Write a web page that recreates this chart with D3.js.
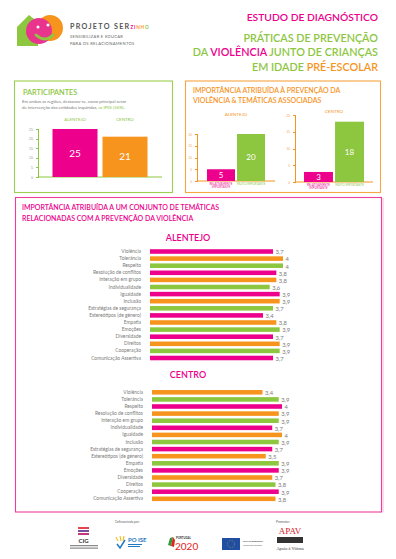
<!DOCTYPE html>
<html>
<head>
<meta charset="utf-8">
<title>Projeto SERzinho</title>
<script src="https://cdn.jsdelivr.net/npm/d3@7"></script>
<style>
  body { margin: 0; background: #fff; }
  svg { display: block; font-family: Lato, "Open Sans", sans-serif; }
  .axis path, .axis line { shape-rendering: crispEdges; }
</style>
</head>
<body>
<svg id="main" width="396" height="559"></svg>
<script>
// ---- data ----
const partCats = ['ALENTEJO', 'CENTRO'];
const partValues = [25, 21];
const partTicks = [0, 5, 10, 15, 20, 25];

const impCats = ['RELATIVAMENTE IMPORTANTE', 'MUITO IMPORTANTE'];
const impAlentejo = [5, 20];
const impCentro = [3, 18];
const impTicks = [0, 5, 10, 15, 20];

const topics = ['Violência', 'Tolerância', 'Respeito', 'Resolução de conflitos',
  'Interação em grupo', 'Individualidade', 'Igualdade', 'Inclusão',
  'Estratégias de segurança', 'Estereótipos (de género)', 'Empatia', 'Emoções',
  'Diversidade', 'Direitos', 'Cooperação', 'Comunicação Assertiva'];
const alentejoScores = [3.7, 4, 4, 3.8, 3.8, 3.6, 3.9, 3.9, 3.7, 3.4, 3.8, 3.9, 3.7, 3.9, 3.9, 3.7];
const centroScores = [3.4, 3.9, 4, 3.9, 3.9, 3.7, 4, 3.9, 3.7, 3.5, 3.9, 3.9, 3.7, 3.8, 3.9, 3.8];

const PINK = '#ec008c', ORANGE = '#f7941d', GREEN = '#8dc63f', GREY = '#7a7a7a';

const svg = d3.select('svg#main');
const fmt = v => String(v).replace('.', ',');

// ---- header / logo ----
const logo = svg.append('g').attr('class', 'logo');
logo.append('path')
  .attr('d', 'M17,27 L29,15 L38,22 L38,46 L17,46 Z')
  .attr('fill', GREEN);
logo.append('circle').attr('cx', 50).attr('cy', 28).attr('r', 13).attr('fill', ORANGE);
logo.append('circle').attr('cx', 39).attr('cy', 31).attr('r', 13).attr('fill', '#e8348c');
logo.append('path').attr('d', 'M36,35 Q45,43 53,35').attr('fill', 'none')
  .attr('stroke', GREEN).attr('stroke-width', 3).attr('stroke-linecap', 'round');
logo.append('circle').attr('cx', 38).attr('cy', 27).attr('r', 1.5).attr('fill', '#fff');
logo.append('circle').attr('cx', 48).attr('cy', 25).attr('r', 1.5).attr('fill', '#fff');

const brand = svg.append('text').attr('x', 70).attr('y', 29)
  .attr('font-size', 7.2).attr('font-weight', 700).attr('fill', '#555')
  .attr('letter-spacing', 1.3);
brand.append('tspan').text('PROJETO SER');
['Z', 'I', 'N', 'H', 'O'].forEach((c, i) => {
  brand.append('tspan').text(c).attr('font-size', 4.6).attr('letter-spacing', 0.8)
    .attr('fill', [PINK, PINK, ORANGE, ORANGE, GREEN][i]);
});
svg.append('text').attr('x', 70).attr('y', 37.5).attr('font-size', 4.1)
  .attr('fill', '#666').attr('letter-spacing', 0.3).text('SENSIBILIZAR E EDUCAR');
svg.append('text').attr('x', 70).attr('y', 44.5).attr('font-size', 4.1)
  .attr('fill', '#666').attr('letter-spacing', 0.3).text('PARA OS RELACIONAMENTOS');

const titleG = svg.append('g').attr('text-anchor', 'end').attr('font-weight', 600);
titleG.append('text').attr('x', 378).attr('y', 20.5).attr('font-size', 10.3)
  .attr('fill', PINK).text('ESTUDO DE DIAGNÓSTICO');
const titleLines = [
  [['PRÁTICAS DE PREVENÇÃO', GREEN]],
  [['DA ', GREEN], ['VIOLÊNCIA', PINK], [' JUNTO DE CRIANÇAS', GREEN]],
  [['EM IDADE ', GREEN], ['PRÉ-ESCOLAR', ORANGE]]
];
titleLines.forEach((parts, i) => {
  const t = titleG.append('text').attr('x', 378).attr('y', 41.5 + i * 14.5).attr('font-size', 10.8);
  parts.forEach(p => t.append('tspan').text(p[0]).attr('fill', p[1]));
});

// ---- panel: participantes ----
svg.append('rect').attr('x', 14.5).attr('y', 81).attr('width', 158).attr('height', 111.5)
  .attr('fill', 'none').attr('stroke', '#9ccf4f').attr('stroke-width', 1.1);
svg.append('text').attr('x', 23).attr('y', 94.5).attr('font-size', 7.3).attr('font-weight', 600)
  .attr('fill', GREEN).text('PARTICIPANTES');
svg.append('text').attr('x', 22).attr('y', 102.5).attr('font-size', 4.3).attr('fill', GREY)
  .text('Em ambas as regiões, destacou-se, como principal setor');
const desc2 = svg.append('text').attr('x', 22).attr('y', 108.5).attr('font-size', 4.3).attr('fill', GREY);
desc2.append('tspan').text('de intervenção das entidades inquiridas, ');
desc2.append('tspan').attr('fill', GREEN).text('as IPSS (56%).');

const px = d3.scaleBand().domain(partCats).range([50, 150]).paddingInner(0.1).paddingOuter(0.05);
const py = d3.scaleLinear().domain([0, 25]).range([177, 129]);
const pColors = [PINK, ORANGE];

svg.append('g').attr('class', 'axis').attr('transform', 'translate(38,0)')
  .call(d3.axisLeft(py).tickValues(partTicks).tickSize(2).tickPadding(3))
  .call(g => g.selectAll('path,line').attr('stroke', GREEN))
  .call(g => g.selectAll('text').attr('font-size', 3.6).attr('fill', '#9a9a9a'));
svg.append('line').attr('x1', 38).attr('x2', 162).attr('y1', 177).attr('y2', 177)
  .attr('stroke', GREEN).attr('stroke-width', 1);

svg.append('g').selectAll('rect').data(partValues).join('rect')
  .attr('x', (d, i) => px(partCats[i])).attr('width', px.bandwidth())
  .attr('y', d => py(d)).attr('height', d => py(0) - py(d))
  .attr('fill', (d, i) => pColors[i]);
svg.append('g').selectAll('text').data(partValues).join('text')
  .attr('x', (d, i) => px(partCats[i]) + px.bandwidth() / 2)
  .attr('y', d => (py(d) + py(0)) / 2 + 3.5)
  .attr('text-anchor', 'middle').attr('font-size', 10).attr('fill', '#fff').text(d => d);
svg.append('g').selectAll('text').data(partCats).join('text')
  .attr('x', d => px(d) + px.bandwidth() / 2).attr('y', 121)
  .attr('text-anchor', 'middle').attr('font-size', 4.4).attr('fill', GREEN).text(d => d);

// ---- panel: importancia ----
svg.append('rect').attr('x', 185.5).attr('y', 81).attr('width', 195).attr('height', 111.5)
  .attr('fill', 'none').attr('stroke', '#f7a541').attr('stroke-width', 1.1);
svg.append('text').attr('x', 193).attr('y', 93).attr('font-size', 7).attr('font-weight', 600)
  .attr('fill', ORANGE).text('IMPORTÂNCIA ATRIBUÍDA À PREVENÇÃO DA');
svg.append('text').attr('x', 193).attr('y', 103).attr('font-size', 7).attr('font-weight', 600)
  .attr('fill', ORANGE).text('VIOLÊNCIA & TEMÁTICAS ASSOCIADAS');

function importanceChart(name, values, xr, yr, axisX, axisEnd, labelY) {
  const x = d3.scaleBand().domain(impCats).range(xr).paddingInner(0.067).paddingOuter(0.033);
  const y = d3.scaleLinear().domain([0, 20]).range(yr);
  const cols = [PINK, GREEN];
  const g = svg.append('g');
  g.append('text').attr('x', (xr[0] + xr[1]) / 2).attr('y', labelY).attr('text-anchor', 'middle')
    .attr('font-size', 4.6).attr('fill', ORANGE).text(name);
  g.append('g').attr('class', 'axis').attr('transform', `translate(${axisX},0)`)
    .call(d3.axisLeft(y).tickValues(impTicks).tickSize(2).tickPadding(3))
    .call(a => a.selectAll('path,line').attr('stroke', ORANGE))
    .call(a => a.selectAll('text').attr('font-size', 3.2).attr('fill', '#f0a050'));
  g.append('line').attr('x1', axisX).attr('x2', axisEnd).attr('y1', yr[0]).attr('y2', yr[0])
    .attr('stroke', ORANGE).attr('stroke-width', 1);
  g.selectAll('rect.bar').data(values).join('rect').attr('class', 'bar')
    .attr('x', (d, i) => x(impCats[i])).attr('width', x.bandwidth())
    .attr('y', d => y(d)).attr('height', d => y(0) - y(d))
    .attr('fill', (d, i) => cols[i]);
  g.selectAll('text.val').data(values).join('text').attr('class', 'val')
    .attr('x', (d, i) => x(impCats[i]) + x.bandwidth() / 2)
    .attr('y', d => (y(d) + y(0)) / 2 + 2.8)
    .attr('text-anchor', 'middle').attr('font-size', 8).attr('fill', '#fff').text(d => d);
  // category labels below axis
  const c0 = x(impCats[0]) + x.bandwidth() / 2, c1 = x(impCats[1]) + x.bandwidth() / 2;
  g.append('text').attr('x', c0).attr('y', yr[0] + 3.8).attr('text-anchor', 'middle')
    .attr('font-size', 2.9).attr('fill', PINK).text('RELATIVAMENTE');
  g.append('text').attr('x', c0).attr('y', yr[0] + 7.3).attr('text-anchor', 'middle')
    .attr('font-size', 2.9).attr('fill', PINK).text('IMPORTANTE');
  g.append('text').attr('x', c1).attr('y', yr[0] + 3.8).attr('text-anchor', 'middle')
    .attr('font-size', 2.9).attr('fill', GREEN).text('MUITO IMPORTANTE');
}
importanceChart('ALENTEJO', impAlentejo, [206, 266], [181, 134], 197, 275, 116);
importanceChart('CENTRO', impCentro, [303, 365], [182, 115], 295, 373, 113);

// ---- panel: tematicas ----
svg.append('rect').attr('x', 15.5).attr('y', 197.5).attr('width', 366).attr('height', 314.5)
  .attr('fill', 'none').attr('stroke', '#ee3d9c').attr('stroke-width', 1.1);
svg.append('line').attr('x1', 383).attr('x2', 383).attr('y1', 198).attr('y2', 512)
  .attr('stroke', '#f9c3df').attr('stroke-width', 1.2);
svg.append('text').attr('x', 22).attr('y', 210).attr('font-size', 7).attr('font-weight', 600)
  .attr('fill', PINK).text('IMPORTÂNCIA ATRIBUÍDA A UM CONJUNTO DE TEMÁTICAS');
svg.append('text').attr('x', 22).attr('y', 220.5).attr('font-size', 7).attr('font-weight', 600)
  .attr('fill', PINK).text('RELACIONADAS COM A PREVENÇÃO DA VIOLÊNCIA');

function topicChart(name, scores, cols, titleY, y0, x0, unit, labelX) {
  const step = 7.1;
  const y = d3.scaleBand().domain(topics).range([y0 - step / 2, y0 - step / 2 + step * topics.length])
    .paddingInner(0.36).paddingOuter(0.18);
  const x = d3.scaleLinear().domain([0, 4]).range([x0, x0 + 4 * unit]);
  const g = svg.append('g');
  g.append('text').attr('x', 188).attr('y', titleY).attr('text-anchor', 'middle')
    .attr('font-size', 9).attr('font-weight', 600).attr('fill', PINK).text(name);
  g.append('g').attr('class', 'axis').attr('transform', `translate(${labelX + 3},0)`)
    .call(d3.axisLeft(y).tickSize(0).tickPadding(3))
    .call(a => a.select('.domain').remove())
    .call(a => a.selectAll('text').attr('font-size', 4.9).attr('fill', GREY)
      .attr('font-family', 'Lato, sans-serif'));
  g.selectAll('rect').data(scores).join('rect')
    .attr('x', x(0)).attr('width', d => x(d) - x(0))
    .attr('y', (d, i) => y(topics[i])).attr('height', y.bandwidth())
    .attr('fill', (d, i) => cols[i % 3]);
  g.selectAll('text.val').data(scores).join('text').attr('class', 'val')
    .attr('x', d => x(d) + 2.5)
    .attr('y', (d, i) => y(topics[i]) + y.bandwidth() / 2 + 2.8)
    .attr('font-size', 5.8).attr('fill', GREY).text(d => fmt(d));
}
topicChart('ALENTEJO', alentejoScores, [PINK, ORANGE, GREEN], 240.5, 251.5, 150, 33.25, 141);
topicChart('CENTRO', centroScores, [ORANGE, GREEN, PINK], 377.5, 392.3, 152, 32.5, 143);

// ---- footer ----
const foot = svg.append('g');
foot.append('text').attr('x', 115).attr('y', 523).attr('font-size', 3.2).attr('fill', '#666')
  .text('Cofinanciado por:');
foot.append('text').attr('x', 276).attr('y', 523).attr('font-size', 3.2).attr('fill', '#666')
  .text('Promotor:');
// CIG
foot.append('rect').attr('x', 78).attr('y', 527).attr('width', 11).attr('height', 2).attr('fill', '#e4454f');
foot.append('rect').attr('x', 78).attr('y', 530).attr('width', 11).attr('height', 2).attr('fill', '#7b4fa0');
foot.append('rect').attr('x', 78).attr('y', 533).attr('width', 11).attr('height', 2).attr('fill', '#c03a7a');
foot.append('text').attr('x', 83.5).attr('y', 543).attr('text-anchor', 'middle').attr('font-size', 6)
  .attr('font-weight', 700).attr('fill', '#333').text('CIG');
foot.append('rect').attr('x', 70).attr('y', 545).attr('width', 28).attr('height', 1.2).attr('fill', '#888');
foot.append('rect').attr('x', 70).attr('y', 547.5).attr('width', 28).attr('height', 1.2).attr('fill', '#888');
// POISE
foot.append('path').attr('d', 'M117,544 L120,548 L125,540').attr('fill', 'none')
  .attr('stroke', '#1f7ac2').attr('stroke-width', 1.5);
foot.append('path').attr('d', 'M116,537 L118,541 M120,536 L121,541 M124,536 L123,541')
  .attr('stroke', '#f5b400').attr('stroke-width', 1);
foot.append('text').attr('x', 128).attr('y', 542).attr('font-size', 6).attr('font-weight', 700)
  .attr('fill', '#1f7ac2').text('PO ISE');
foot.append('rect').attr('x', 128).attr('y', 544).attr('width', 14).attr('height', 1).attr('fill', '#1f7ac2');
foot.append('rect').attr('x', 128).attr('y', 546).attr('width', 12).attr('height', 1).attr('fill', '#1f7ac2');
// Portugal 2020
foot.append('path').attr('d', 'M168,545 L170,538 L173,537 L171,546 Z').attr('fill', '#2e9a3e');
foot.append('path').attr('d', 'M171,546 L173,537 L175,540 L174,547 Z').attr('fill', '#e2231a');
foot.append('text').attr('x', 176).attr('y', 539).attr('font-size', 2.8).attr('font-weight', 700)
  .attr('fill', '#333').text('PORTUGAL');
foot.append('text').attr('x', 175).attr('y', 550).attr('font-size', 10).attr('fill', '#e2231a').text('2020');
// EU
foot.append('rect').attr('x', 222).attr('y', 538).attr('width', 18).attr('height', 12).attr('fill', '#1f4ea3');
foot.append('circle').attr('cx', 231).attr('cy', 544).attr('r', 3.6).attr('fill', 'none')
  .attr('stroke', '#f5d000').attr('stroke-width', 0.6).attr('stroke-dasharray', '0.6 1.2');
foot.append('text').attr('x', 243).attr('y', 542).attr('font-size', 2.4).attr('font-weight', 700)
  .attr('fill', '#333').text('UNIÃO EUROPEIA');
foot.append('text').attr('x', 243).attr('y', 546).attr('font-size', 2).attr('fill', '#555')
  .text('Fundo Social Europeu');
// APAV
foot.append('text').attr('x', 290).attr('y', 534).attr('text-anchor', 'middle').attr('font-size', 9)
  .attr('font-family', 'Liberation Serif, serif').attr('fill', '#d42027').text('APAV');
foot.append('rect').attr('x', 277).attr('y', 537).attr('width', 26).attr('height', 6).attr('fill', '#333');
foot.append('text').attr('x', 290).attr('y', 550).attr('text-anchor', 'middle').attr('font-size', 4.4)
  .attr('font-family', 'Liberation Serif, serif').attr('fill', '#333').text('Apoio à Vítima');
</script>
</body>
</html>
